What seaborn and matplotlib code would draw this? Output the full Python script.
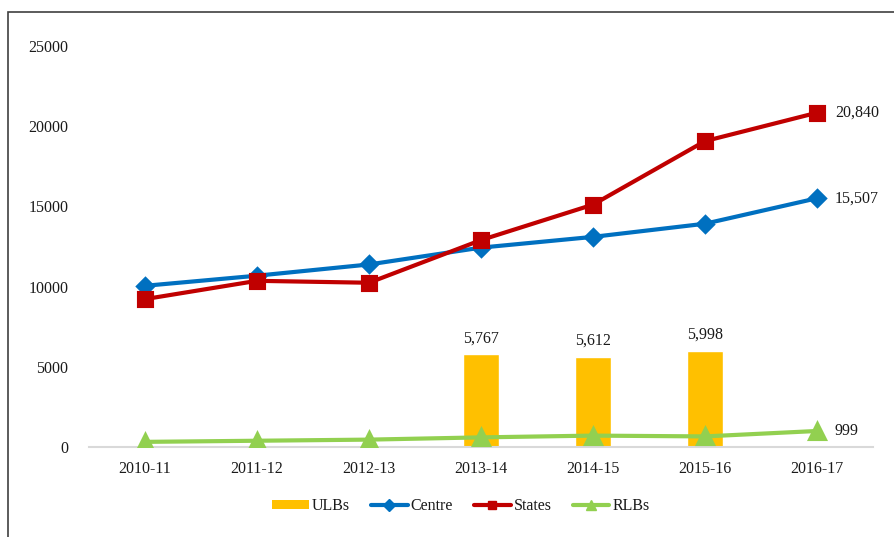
import matplotlib
matplotlib.use("Agg")
import matplotlib.pyplot as plt
import seaborn as sns
import numpy as np
import pandas as pd
from matplotlib.patches import Rectangle, Patch
from matplotlib.lines import Line2D

years = ["2010-11", "2011-12", "2012-13", "2013-14", "2014-15", "2015-16", "2016-17"]
centre = [10050, 10680, 11380, 12430, 13100, 13920, 15507]
states = [9220, 10360, 10240, 12900, 15110, 19070, 20840]
rlbs = [320, 390, 460, 600, 710, 660, 999]
ulb_years = ["2013-14", "2014-15", "2015-16"]
ulbs = [5767, 5612, 5998]
yticks = [0, 5000, 10000, 15000, 20000, 25000]

sns.set_theme(style="white")
plt.rcParams["font.family"] = ["Liberation Serif", "DejaVu Serif"]

c_ulb, c_cen, c_st, c_rlb = "#FFC000", "#0070C0", "#C00000", "#92D050"
tc = "#1a1a1a"

fig = plt.figure(figsize=(8.95, 5.37), dpi=100)
ax = fig.add_axes([89/895, 1-447/537, (873-89)/895, (447-46)/537])

sns.barplot(x=ulb_years, y=ulbs, order=years, color=c_ulb, width=0.32,
            saturation=1, errorbar=None, ax=ax, zorder=2)
for vals, col, mk, ms in [(centre, c_cen, "D", 8.5), (states, c_st, "s", 9.5), (rlbs, c_rlb, "^", 11)]:
    sns.pointplot(x=years, y=vals, order=years, color=col, markers=mk, markersize=ms,
                  linewidth=3, errorbar=None, ax=ax)
for coll in ax.collections:
    coll.set_zorder(4)
for ln in ax.lines:
    ln.set_zorder(4)

# labels
for yr, v in zip(ulb_years, ulbs):
    ax.text(years.index(yr), v + 500, f"{v:,}", ha="center", va="bottom", fontsize=11.5, color=tc)
for vals in [centre, states, rlbs]:
    ax.text(6 + 0.16, vals[-1], f"{vals[-1]:,}", ha="left", va="center", fontsize=11.5, color=tc)

ax.set_ylim(0, 25000)
ax.set_xlim(-0.5, 6.5)
ax.set_yticks(yticks)
ax.set_yticklabels([str(t) for t in yticks])
ax.tick_params(axis="both", length=0, labelsize=11.5, colors=tc)
ax.tick_params(axis="y", pad=15)
ax.tick_params(axis="x", pad=10)
for s in ["top", "right", "left"]:
    ax.spines[s].set_visible(False)
ax.spines["bottom"].set_color("#D9D9D9")
ax.spines["bottom"].set_linewidth(1.5)
ax.set_xlabel("")
ax.set_ylabel("")

handles = [
    Patch(facecolor=c_ulb, edgecolor="none", label="ULBs"),
    Line2D([], [], color=c_cen, lw=3, marker="D", markersize=6, label="Centre"),
    Line2D([], [], color=c_st, lw=3, marker="s", markersize=6, label="States"),
    Line2D([], [], color=c_rlb, lw=3, marker="^", markersize=7, label="RLBs"),
]
fig.legend(handles=handles, loc="center", bbox_to_anchor=(461/895, 1-506/537), ncol=4,
           frameon=False, fontsize=11.5, handlelength=2.3, handletextpad=0.2, columnspacing=1.3,
           handleheight=0.5, labelcolor=tc)

fig.patches.append(Rectangle((8/895, -0.1), 1.2, 1-12/537+0.1, transform=fig.transFigure,
                             fill=False, edgecolor="#404040", lw=1.2))

fig.savefig("out.png", dpi=100)
